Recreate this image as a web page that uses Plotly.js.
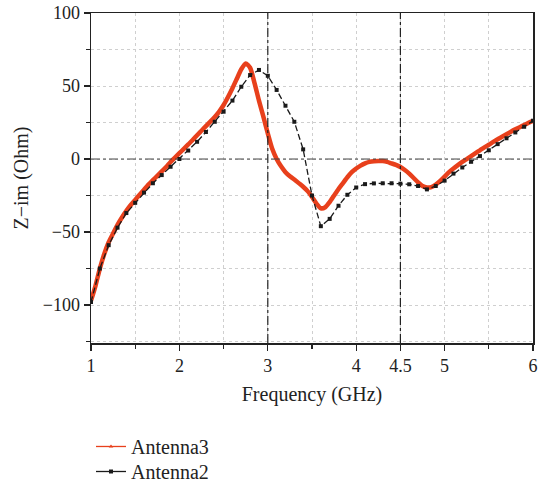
<!DOCTYPE html>
<html>
<head>
<meta charset="utf-8">
<script src="https://cdn.plot.ly/plotly-3.0.1.min.js"></script>
<style>html,body{margin:0;padding:0;background:#fff;}#chart{width:545px;height:483px;}</style>
</head>
<body>
<div id="chart"></div>
<script>
// Antenna2 (black dashed, square markers)
const freqA2 = [1.0,1.1,1.2,1.3,1.4,1.5,1.6,1.7,1.8,1.9,2.0,2.1,2.2,2.3,2.4,2.5,2.6,2.7,2.8,2.9,3.0,3.1,3.2,3.3,3.4,3.5,3.6,3.7,3.8,3.9,4.0,4.1,4.2,4.3,4.4,4.5,4.6,4.7,4.8,4.9,5.0,5.1,5.2,5.3,5.4,5.5,5.6,5.7,5.8,5.9,6.0];
const zimA2 = [-98,-75,-59,-47,-37,-30,-23,-16.6,-11,-5.3,0,5.8,11.8,18.5,25.5,32.4,40,49.5,57.5,61,57,47.3,36.5,25.5,6.6,-25,-46,-41,-32,-24.5,-19.5,-17.2,-16.7,-16.6,-16.6,-16.9,-17.3,-18.5,-20.8,-18.5,-14.8,-10,-5.8,-1.9,2,6,10.2,14.2,18.2,22.1,26.2];

// Antenna3 (red, thick, triangle markers)
const freqA3 = [1.0,1.05,1.1,1.15,1.2,1.25,1.3,1.35,1.4,1.45,1.5,1.55,1.6,1.65,1.7,1.75,1.8,1.85,1.9,1.95,2.0,2.05,2.1,2.15,2.2,2.25,2.3,2.35,2.4,2.45,2.5,2.55,2.6,2.65,2.7,2.75,2.8,2.85,2.9,2.95,3.0,3.05,3.1,3.15,3.2,3.25,3.3,3.35,3.4,3.45,3.5,3.55,3.6,3.65,3.7,3.75,3.8,3.85,3.9,3.95,4.0,4.05,4.1,4.15,4.2,4.25,4.3,4.35,4.4,4.45,4.5,4.55,4.6,4.65,4.7,4.75,4.8,4.85,4.9,4.95,5.0,5.05,5.1,5.15,5.2,5.25,5.3,5.35,5.4,5.45,5.5,5.55,5.6,5.65,5.7,5.75,5.8,5.85,5.9,5.95,6.0];
const zimA3 = [-97,-87,-75,-65,-57,-51,-45,-40,-35.5,-31.5,-28,-24.5,-21,-17.5,-14.5,-11.5,-8.5,-5.5,-2,1,4,7,10,13,16.3,19.4,22.5,25.6,28.8,32.5,37,42.5,48.5,55,61.5,65.5,62.5,52,40,29,17.5,7,0,-5,-9,-11.8,-14,-16.5,-19,-22,-26,-30.5,-33.7,-33,-29.5,-25,-20.5,-16.5,-12.5,-9,-6.5,-4.5,-3,-2,-1.5,-1.3,-1.4,-2,-3,-4,-5.5,-7.5,-10,-13,-16,-18.5,-19.5,-19.2,-17.5,-15,-12,-9,-6.5,-4.2,-2,0,2,4,6,8,9.8,11.7,13.5,15.3,17,18.7,20.3,21.8,23.3,24.8,26.2];

const xTickVals = [1,2,3,4,4.5,5,6];
const xTickText = ['1','2','3','4','4.5','5','6'];
const yTickVals = [-100,-50,0,50,100];

const serif = 'Liberation Serif, Times New Roman, serif';
const red = '#e8401c';
const blk = '#1a1a1a';

const traces = [
  {
    x: freqA3, y: zimA3, name: 'Antenna3', type: 'scatter', mode: 'lines+markers', showlegend: false,
    line: {color: red, width: 4.5, shape: 'spline', smoothing: 0.6},
    marker: {symbol: 'triangle-up', size: 3, color: red}
  },
  {
    x: freqA2, y: zimA2, name: 'Antenna2', type: 'scatter', mode: 'lines+markers', showlegend: false,
    line: {color: blk, width: 1.3, dash: '6px,3px'},
    marker: {symbol: 'square', size: 4, color: blk}
  },
  // legend-only entries (thin solid sample lines as in the reference)
  {
    x: [null], y: [null], name: 'Antenna3', type: 'scatter', mode: 'lines+markers', legend: 'legend',
    line: {color: red, width: 1.3}, marker: {symbol: 'triangle-up', size: 4, color: red}
  },
  {
    x: [null], y: [null], name: 'Antenna2', type: 'scatter', mode: 'lines+markers', legend: 'legend2',
    line: {color: blk, width: 1.3}, marker: {symbol: 'square', size: 4, color: blk}
  }
];

const gridCol = '#cfcfcf';
const layout = {
  width: 545, height: 483,
  margin: {l: 91, r: 12, t: 13, b: 140, autoexpand: false},
  paper_bgcolor: '#fff', plot_bgcolor: '#fff',
  font: {family: serif, size: 18, color: '#222'},
  showlegend: true,
  xaxis: {
    range: [1, 6], tickvals: xTickVals, ticktext: xTickText, automargin: false,
    showgrid: true, gridcolor: gridCol, griddash: 'dot', gridwidth: 1,
    ticks: 'outside', ticklen: 6, tickwidth: 1.3, tickcolor: '#222',
    showline: true, linecolor: '#222', linewidth: 1.5, mirror: true,
    zeroline: false,
    tickfont: {family: serif, size: 18, color: '#222'},
    minor: {dtick: 0.5, tick0: 1, ticks: 'outside', ticklen: 4, tickcolor: '#222', showgrid: true, gridcolor: gridCol, griddash: 'dot'},
    title: {text: 'Frequency (GHz)', font: {family: serif, size: 20, color: '#222'}, standoff: 12}
  },
  yaxis: {
    range: [-126, 100], tickvals: yTickVals, automargin: false,
    showgrid: true, gridcolor: gridCol, griddash: 'dot', gridwidth: 1,
    ticks: 'outside', ticklen: 6, tickwidth: 1.3, tickcolor: '#222',
    showline: true, linecolor: '#222', linewidth: 1.5, mirror: true,
    zeroline: false,
    tickfont: {family: serif, size: 18, color: '#222'},
    minor: {dtick: 25, tick0: 0, ticks: 'outside', ticklen: 4, tickcolor: '#222', showgrid: true, gridcolor: gridCol, griddash: 'dot'},
    title: {text: 'Z\u2212im (Ohm)', font: {family: serif, size: 20, color: '#222'}, standoff: 8}
  },
  shapes: [
    {type: 'line', xref: 'x', yref: 'paper', x0: 3, x1: 3, y0: 0, y1: 1, line: {color: '#222', width: 1.2, dash: 'dashdot'}},
    {type: 'line', xref: 'x', yref: 'paper', x0: 4.5, x1: 4.5, y0: 0, y1: 1, line: {color: '#222', width: 1.2, dash: 'dashdot'}},
    {type: 'line', xref: 'paper', yref: 'y', x0: 0, x1: 1, y0: 0, y1: 0, line: {color: '#444', width: 1, dash: 'dashdot'}}
  ],
  legend: {x: 0, xanchor: 'left', y: -0.2545, yanchor: 'top',
    bgcolor: 'rgba(0,0,0,0)', borderwidth: 0, font: {family: serif, size: 20, color: '#222'}, itemwidth: 30},
  legend2: {x: 0, xanchor: 'left', y: -0.3303, yanchor: 'top',
    bgcolor: 'rgba(0,0,0,0)', borderwidth: 0, font: {family: serif, size: 20, color: '#222'}, itemwidth: 30}
};

Plotly.newPlot('chart', traces, layout, {displayModeBar: false, staticPlot: true});
</script>
</body>
</html>
